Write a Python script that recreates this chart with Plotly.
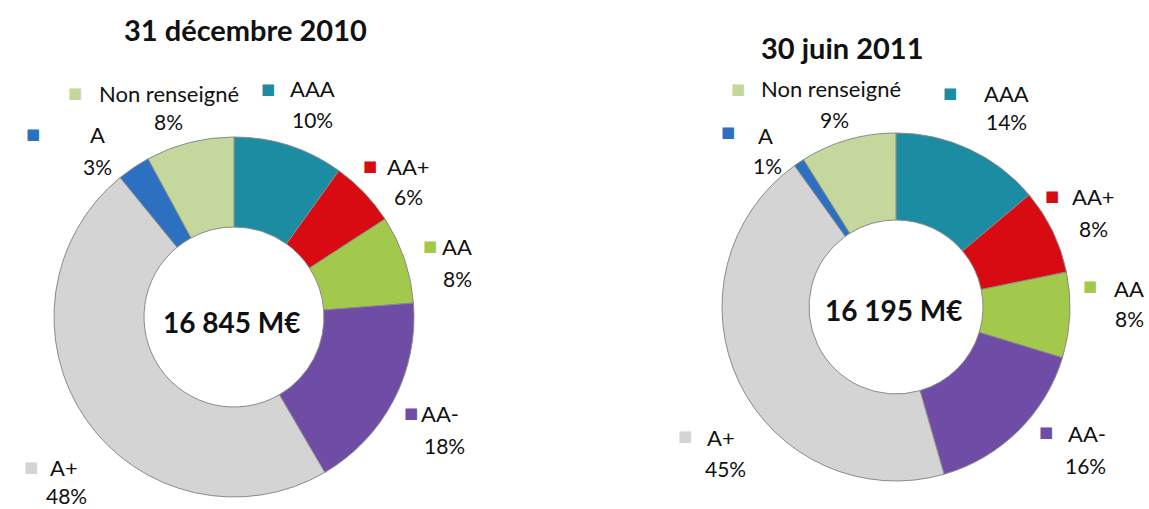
import plotly.graph_objects as go

W, H = 1149, 509

categories = ["AAA", "AA+", "AA", "AA-", "A+", "A", "Non renseigné"]
values_2010 = [10, 6, 8, 18, 48, 3, 8]
values_2011 = [14, 8, 8, 16, 45, 1, 9]
pct_labels_2010 = ["10%", "6%", "8%", "18%", "48%", "3%", "8%"]
pct_labels_2011 = ["14%", "8%", "8%", "16%", "45%", "1%", "9%"]
titles = ["31 décembre 2010", "30 juin 2011"]
totals = ["16 845 M€", "16 195 M€"]
colors = ["#1C8CA2", "#D80B12", "#A3C94C", "#6F4CA6", "#D4D4D4", "#2C70C2", "#C4D89E"]

FONT = "Lato, 'Open Sans', sans-serif"


def px(x):
    return x / W


def py(y):
    return 1 - y / H


# layout (pixel positions) ---------------------------------------------
pie_boxes = [  # (left, top, right, bottom)
    (54, 137, 414, 497),
    (722, 133, 1070, 481),
]
title_pos = [(245, 30), (842, 48)]
center_pos = [(232, 322), (894, 310)]
# per category: (square x, square y, label x, label y, pct x, pct y)
label_pos = [
    {
        "AAA": (268, 89, 312, 89, 312, 119),
        "AA+": (370, 166, 408, 166, 408, 197),
        "AA": (430, 246, 457, 246, 457, 278),
        "AA-": (411, 413, 440, 413, 444, 445),
        "A+": (31, 467, 64, 467, 66, 495),
        "A": (33, 134, 97, 134, 97, 166),
        "Non renseigné": (75, 93, 169, 93, 168, 122),
    },
    {
        "AAA": (950, 93, 1006, 93, 1006, 122),
        "AA+": (1052, 196, 1093, 197, 1093, 228),
        "AA": (1090, 286, 1129, 288, 1129, 318),
        "AA-": (1046, 432, 1087, 433, 1085, 465),
        "A+": (685, 436, 721, 437, 725, 468),
        "A": (728, 132, 765, 135, 767, 165),
        "Non renseigné": (738, 89, 831, 89, 834, 119),
    },
]

fig = go.Figure()
all_values = [values_2010, values_2011]
all_pcts = [pct_labels_2010, pct_labels_2011]

annotations = []
for i in range(2):
    l, t, r, b = pie_boxes[i]
    fig.add_trace(go.Pie(
        labels=categories,
        values=all_values[i],
        hole=0.5,
        sort=False,
        direction="clockwise",
        rotation=0,
        marker=dict(colors=colors, line=dict(color="#8a8a8a", width=1)),
        textinfo="none",
        hoverinfo="label+percent",
        showlegend=False,
        domain=dict(x=[px(l), px(r)], y=[py(b), py(t)]),
    ))
    tx, ty = title_pos[i]
    annotations.append(dict(x=px(tx), y=py(ty), xref="paper", yref="paper",
                            text="<b>" + titles[i] + "</b>", showarrow=False,
                            xanchor="center", yanchor="middle",
                            font=dict(family=FONT, size=29, color="#111111")))
    cx, cy = center_pos[i]
    annotations.append(dict(x=px(cx), y=py(cy), xref="paper", yref="paper",
                            text="<b>" + totals[i] + "</b>", showarrow=False,
                            xanchor="center", yanchor="middle",
                            font=dict(family=FONT, size=28, color="#111111")))
    for k, cat in enumerate(categories):
        sx, sy, lx, ly, qx, qy = label_pos[i][cat]
        annotations.append(dict(x=px(sx), y=py(sy), xref="paper", yref="paper",
                                text="■", showarrow=False,
                                xanchor="center", yanchor="middle",
                                font=dict(family="DejaVu Sans", size=15, color=colors[k])))
        annotations.append(dict(x=px(lx), y=py(ly), xref="paper", yref="paper",
                                text=cat, showarrow=False,
                                xanchor="center", yanchor="middle",
                                font=dict(family=FONT, size=22, color="#111111")))
        annotations.append(dict(x=px(qx), y=py(qy), xref="paper", yref="paper",
                                text=all_pcts[i][k], showarrow=False,
                                xanchor="center", yanchor="middle",
                                font=dict(family=FONT, size=21, color="#111111")))

fig.update_layout(
    width=W, height=H,
    margin=dict(l=0, r=0, t=0, b=0),
    paper_bgcolor="white",
    plot_bgcolor="white",
    annotations=annotations,
)

fig.write_html(
    "out.html",
    config={"displayModeBar": False},
    post_script="document.body.style.margin='0';document.body.style.overflow='hidden';",
)
